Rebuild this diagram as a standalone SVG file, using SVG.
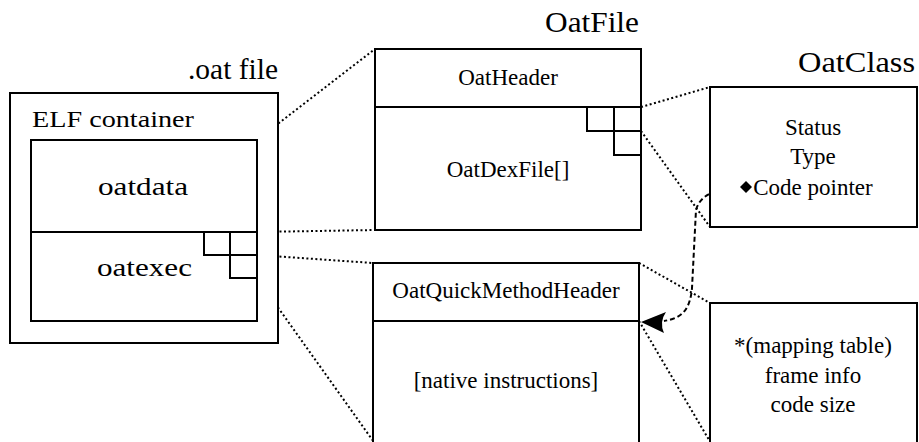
<svg xmlns="http://www.w3.org/2000/svg" width="919" height="442" viewBox="0 0 919 442">
  <defs>
    <!-- filled pointer head used at the end of the code-pointer link -->
    <path id="pointer-head" d="M0,0 L25,-10 Q18,0 23,11 Z" fill="#000"/>
  </defs>

  <rect width="919" height="442" fill="#fff"/>

  <!-- dotted zoom lines and the code-pointer link -->
  <g id="connectors" fill="none" stroke="#000" stroke-width="2">
    <g stroke-dasharray="2 2.5">
      <line x1="257" y1="140" x2="375" y2="49"/>
      <line x1="257" y1="232" x2="375" y2="230"/>
      <line x1="257" y1="255" x2="373" y2="263"/>
      <line x1="257" y1="278" x2="376" y2="445"/>
      <line x1="641" y1="107" x2="710" y2="87"/>
      <line x1="641" y1="131" x2="710" y2="227"/>
      <line x1="639" y1="263" x2="710" y2="303"/>
      <line x1="639" y1="321" x2="712" y2="445"/>
    </g>
    <path stroke-dasharray="5 3" d="M740,187 C716,188 700,195 696,210 L692,288 C690,310 682,318 664,321"/>
    <use href="#pointer-head" x="641" y="322" stroke="none"/>
  </g>

  <!-- .oat file with its ELF container -->
  <g id="oat-file">
    <g fill="#fff" stroke="#000" stroke-width="2">
      <rect x="10" y="93" width="268" height="250"/>
      <rect x="31" y="140" width="226" height="181"/>
      <line x1="31" y1="232" x2="257" y2="232"/>
      <path fill="none" d="M204,232 V255 H257 M230,232 V278 H257"/>
    </g>
    <g font-family="Liberation Serif" fill="#000">
      <text x="278" y="79" text-anchor="end" font-size="29" textLength="90" lengthAdjust="spacingAndGlyphs">.oat file</text>
      <text x="32" y="127" font-size="23" textLength="162" lengthAdjust="spacingAndGlyphs">ELF container</text>
      <text x="98" y="195" font-size="26" textLength="90" lengthAdjust="spacingAndGlyphs">oatdata</text>
      <text x="97" y="276" font-size="26" textLength="95" lengthAdjust="spacingAndGlyphs">oatexec</text>
    </g>
  </g>

  <!-- OatFile -->
  <g id="oatfile">
    <g fill="#fff" stroke="#000" stroke-width="2">
      <rect x="375" y="49" width="266" height="181"/>
      <line x1="375" y1="107" x2="641" y2="107"/>
      <path fill="none" d="M587,107 V131 H641 M614,107 V155 H641"/>
    </g>
    <g font-family="Liberation Serif" fill="#000">
      <text x="639" y="32" text-anchor="end" font-size="29" textLength="94" lengthAdjust="spacingAndGlyphs">OatFile</text>
      <text x="508" y="85" text-anchor="middle" font-size="23">OatHeader</text>
      <text x="508" y="177" text-anchor="middle" font-size="23">OatDexFile[]</text>
    </g>
  </g>

  <!-- OatClass -->
  <g id="oatclass">
    <rect x="710" y="87" width="207" height="140" fill="#fff" stroke="#000" stroke-width="2"/>
    <g font-family="Liberation Serif" fill="#000">
      <text x="915" y="72" text-anchor="end" font-size="29" textLength="117" lengthAdjust="spacingAndGlyphs">OatClass</text>
      <text x="813" y="135" text-anchor="middle" font-size="23">Status</text>
      <text x="813" y="164" text-anchor="middle" font-size="23">Type</text>
      <text x="813" y="195" text-anchor="middle" font-size="23">Code pointer</text>
    </g>
    <path d="M740,187 L746,181 L752,187 L746,193 Z" fill="#000"/>
  </g>

  <!-- OatQuickMethodHeader and native code -->
  <g id="method">
    <g fill="#fff" stroke="#000" stroke-width="2">
      <rect x="373" y="263" width="266" height="200"/>
      <line x1="373" y1="321" x2="639" y2="321"/>
    </g>
    <g font-family="Liberation Serif" fill="#000" font-size="23" text-anchor="middle">
      <text x="506" y="298">OatQuickMethodHeader</text>
      <text x="506" y="388">[native instructions]</text>
    </g>
  </g>

  <!-- method header contents -->
  <g id="header-info">
    <rect x="710" y="303" width="207" height="160" fill="#fff" stroke="#000" stroke-width="2"/>
    <g font-family="Liberation Serif" fill="#000" font-size="23" text-anchor="middle">
      <text x="813" y="353">*(mapping table)</text>
      <text x="813" y="383">frame info</text>
      <text x="813" y="412">code size</text>
    </g>
  </g>
</svg>
